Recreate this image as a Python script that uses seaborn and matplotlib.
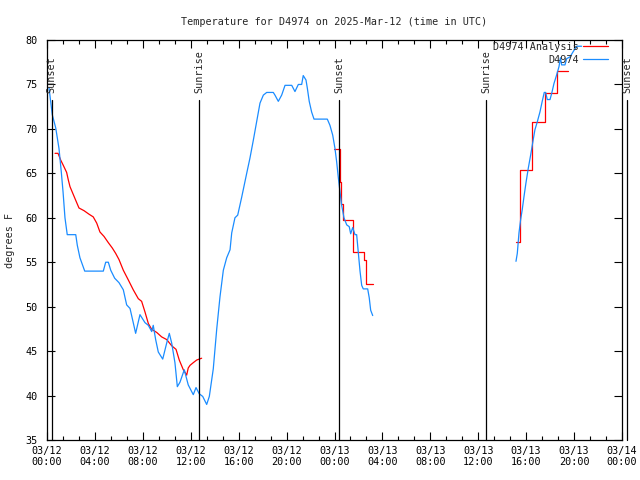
import matplotlib
matplotlib.use('Agg')
import matplotlib.dates   as mdates
import matplotlib.pyplot  as plt
import matplotlib.ticker  as mticker
from matplotlib.lines import Line2D
import numpy              as np
import pandas             as pd
import seaborn            as sns

START = pd.Timestamp('2025-03-12 00:00')

# Observations (hours since 03/12 00:00 UTC, degrees F), one list per segment
obs_hours_1 = [0.17, 0.44, 0.73, 1.00, 1.19, 1.34, 1.50, 1.69, 2.40, 2.53, 2.75, 3.15,
               4.70, 4.90, 5.12, 5.32, 5.65, 6.01, 6.37, 6.65, 6.93, 7.20, 7.40, 7.76,
               8.18, 8.46, 8.74, 8.87, 9.07, 9.29, 9.66, 9.99, 10.21, 10.41, 10.68, 10.88,
               11.10, 11.46, 11.79, 12.21, 12.44, 12.71, 13.00, 13.33, 13.55, 13.88, 14.17,
               14.44, 14.72, 15.00, 15.28, 15.42, 15.69, 15.92, 16.25, 16.67, 16.94, 17.22,
               17.50, 17.78, 18.06, 18.34, 18.89, 19.03, 19.31, 19.59, 19.87, 20.43, 20.70,
               20.98, 21.26, 21.39, 21.62, 21.73, 21.89, 22.09, 22.29, 23.40, 23.62, 23.85,
               24.04, 24.18, 24.32, 24.46, 24.60, 24.79, 25.02, 25.23, 25.35, 25.52, 25.71,
               25.85, 25.98, 26.13, 26.27, 26.40, 26.77, 26.90, 27.02, 27.19]
obs_temps_1 = [74.6, 71.6, 70.1, 67.8, 65.2, 62.9, 60.0, 58.1, 58.1, 56.9, 55.5, 54.0,
               54.0, 55.0, 55.0, 54.1, 53.2, 52.7, 51.9, 50.2, 49.8, 48.2, 47.0, 49.1,
               48.2, 47.9, 47.2, 47.9, 46.3, 44.9, 44.1, 45.9, 47.0, 45.9, 43.7, 41.0,
               41.5, 42.9, 41.2, 40.1, 40.9, 40.2, 39.9, 39.0, 39.9, 43.0, 47.5,
               51.1, 54.1, 55.5, 56.4, 58.3, 60.0, 60.3, 62.3, 65.0, 66.7, 68.7,
               70.8, 72.9, 73.8, 74.1, 74.1, 73.8, 73.1, 73.8, 74.9, 74.9, 74.2,
               75.0, 75.0, 76.0, 75.5, 74.6, 73.1, 71.9, 71.1, 71.1, 70.4, 69.3,
               67.8, 66.3, 64.5, 62.9, 61.4, 60.0, 59.2, 59.0, 58.2, 58.9, 58.1,
               58.1, 56.2, 54.0, 52.4, 52.0, 52.0, 51.0, 49.6, 49.0]

obs_hours_2 = [39.15, 39.26, 39.40, 39.54, 39.67, 39.82, 39.98, 40.18, 40.38, 40.54, 40.73,
               40.93, 41.15, 41.34, 41.51, 41.63, 41.76, 41.99, 42.15, 42.32, 42.55, 42.74,
               42.86, 42.96, 43.24, 43.38, 43.66, 43.93, 44.22, 44.63]
obs_temps_2 = [55.1, 56.0, 58.3, 59.8, 60.9, 62.4, 63.9, 65.6, 67.1, 68.4, 69.9,
               70.8, 71.9, 73.1, 74.1, 74.1, 73.3, 73.3, 74.1, 75.1, 76.1, 77.0,
               78.0, 77.2, 77.2, 77.9, 78.1, 78.7, 79.3, 79.3]

# Analysis
ana_hours_1 = [0.67, 0.92, 1.14, 1.36, 1.64, 1.78, 1.92, 2.20, 2.48, 2.67, 3.09, 3.51,
               3.86, 4.15, 4.42, 4.76, 5.12, 5.45, 5.73, 6.01, 6.37, 6.79, 7.20, 7.62,
               7.90, 8.18, 8.46, 8.74, 9.16, 9.57, 9.99, 10.41, 10.77, 11.04, 11.38,
               11.66, 11.79, 11.94, 12.21, 12.50, 12.91]
ana_temps_1 = [67.25, 67.25, 66.5, 65.9, 65.1, 64.25, 63.5, 62.6, 61.7, 61.1, 60.8, 60.4,
               60.1, 59.4, 58.4, 57.9, 57.2, 56.6, 56.0, 55.3, 54.1, 53.0, 51.9, 50.9,
               50.6, 49.4, 48.1, 47.45, 47.1, 46.6, 46.3, 45.6, 45.2, 44.0, 42.9,
               42.3, 43.1, 43.4, 43.7, 44.0, 44.2]

# Analysis steps (value holds from each time to the next)
ana_hours_2 = [23.96, 24.50, 24.58, 24.72, 25.52, 26.49, 26.64, 27.19]
ana_temps_2 = [67.7, 64.0, 61.6, 59.7, 56.1, 55.2, 52.5, 52.5]
ana_hours_3 = [39.15, 39.48, 40.50, 41.57, 42.60, 43.51]
ana_temps_3 = [57.3, 65.4, 70.8, 74.0, 76.5, 76.5]

# Sun events
sun_labels = ['Sunset', 'Sunrise', 'Sunset', 'Sunrise', 'Sunset']
sun_times = ['2025-03-12 00:23', '2025-03-12 12:41', '2025-03-13 00:24',
             '2025-03-13 12:39', '2025-03-14 00:25']

OBS_COLOR = '#1a8cff'
ANA_COLOR = '#ff0000'
FS = 7.3


def frame(hours_list, temps_list):
    parts = []
    for i, (h, t) in enumerate(zip(hours_list, temps_list)):
        parts.append(pd.DataFrame({'time': START + pd.to_timedelta(h, unit='h'),
                                   'temp': t, 'seg': i}))
    return pd.concat(parts, ignore_index=True)


obs = frame([obs_hours_1, obs_hours_2], [obs_temps_1, obs_temps_2])
ana_line = frame([ana_hours_1], [ana_temps_1])
ana_steps = frame([ana_hours_2, ana_hours_3], [ana_temps_2, ana_temps_3])

sns.set_style('ticks')
plt.rcParams['font.family'] = ['DejaVu Sans Mono']
plt.rcParams['font.size'] = FS

fig = plt.figure(figsize=(6.4, 4.8), dpi=100)
ax = fig.add_axes([47 / 640, 40 / 480, 575 / 640, 400 / 480])

sns.lineplot(data=ana_line, x='time', y='temp', units='seg', estimator=None,
             color=ANA_COLOR, linewidth=0.9, ax=ax, legend=False)
sns.lineplot(data=ana_steps, x='time', y='temp', units='seg', estimator=None,
             color=ANA_COLOR, linewidth=0.9, drawstyle='steps-post', ax=ax, legend=False)
sns.lineplot(data=obs, x='time', y='temp', units='seg', estimator=None,
             color=OBS_COLOR, linewidth=0.9, ax=ax, legend=False)

for label, t in zip(sun_labels, sun_times):
    ts = pd.Timestamp(t)
    ax.axvline(ts, ymin=0, ymax=(73.25 - 35) / 45, color='black', linewidth=0.9,
               clip_on=False)
    ax.text(ts, 74.0, label, rotation=90, ha='center', va='bottom',
            fontsize=FS, clip_on=False)

ax.set_xlim(START, START + pd.Timedelta(hours=48))
ax.set_ylim(35, 80)
ax.yaxis.set_major_locator(mticker.MultipleLocator(5))
ax.xaxis.set_major_locator(mdates.HourLocator(byhour=[0, 4, 8, 12, 16, 20]))
ax.xaxis.set_major_formatter(mdates.DateFormatter('%m/%d\n%H:%M'))
ax.xaxis.set_minor_locator(mticker.AutoMinorLocator(3))

ax.tick_params(which='both', direction='in', top=True, right=True, colors='black',
               labelsize=FS, width=0.8)
ax.tick_params(which='major', length=6)
ax.tick_params(which='minor', length=3)
ax.tick_params(axis='x', pad=4)
ax.tick_params(axis='y', pad=7)
for s in ax.spines.values():
    s.set_visible(True)
    s.set_color('black')
    s.set_linewidth(0.9)

ax.set_xlabel('')
ax.set_ylabel('degrees F', fontsize=FS, labelpad=7)
ax.set_title('Temperature for D4974 on 2025-Mar-12 (time in UTC)', fontsize=FS, pad=11)

handles = [Line2D([], [], color=ANA_COLOR, linewidth=0.9),
           Line2D([], [], color=OBS_COLOR, linewidth=0.9)]
ax.legend(handles, ['D4974 Analysis', 'D4974'], loc='upper right', frameon=False,
          markerfirst=False, handlelength=2.5, fontsize=FS, borderaxespad=0,
          borderpad=0.2, bbox_to_anchor=(1 - 12 / 575, 1.0),
          labelspacing=0.25, handletextpad=0.4)

fig.savefig('out.png', dpi=100)
